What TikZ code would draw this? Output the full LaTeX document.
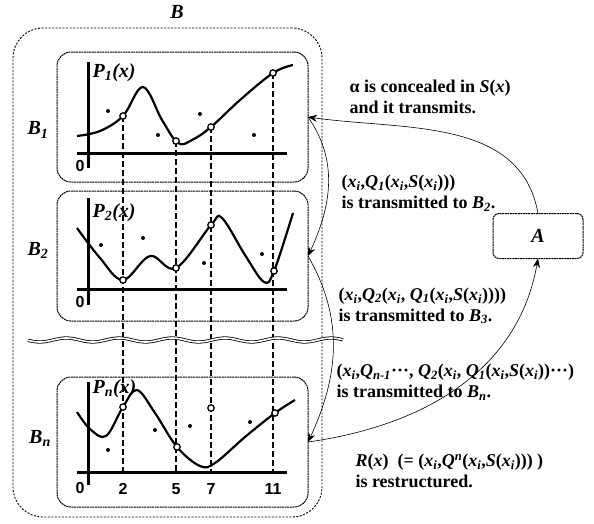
\documentclass[tikz,border=0pt]{standalone}
\usepackage{fontspec}
\setmainfont{Liberation Serif}
\setsansfont{Liberation Sans}
\usetikzlibrary{arrows.meta, positioning}
\newcommand{\ssub}[1]{\textsubscript{\textit{#1}}}
\newcommand{\xsub}{\textit{x}\ssub{i}}

\begin{document}
\begin{tikzpicture}[x=1pt, y=1pt,
            group/.style={draw, line width=0.9pt, dash pattern=on 2pt off 1.5pt, rounded corners=30pt, minimum width=309pt, minimum height=489pt, outer sep=0pt},
            panel/.style={draw, line width=1pt, dash pattern=on 2pt off 0.6pt, rounded corners=14pt, minimum width=251pt, minimum height=130pt, outer sep=0pt},
            keybox/.style={draw, line width=1pt, dash pattern=on 2pt off 0.6pt, rounded corners=6pt, minimum width=90pt, minimum height=45pt, outer sep=0pt, font=\fontsize{20}{20}\selectfont\bfseries\itshape},
            tag/.style={font=\fontsize{20}{20}\selectfont\bfseries\itshape},
            fname/.style={anchor=west, font=\fontsize{20}{20}\selectfont\bfseries\itshape},
            num/.style={font=\fontsize{16}{16}\selectfont\sffamily\bfseries},
            note/.style={anchor=west, align=left, font=\fontsize{18}{21}\selectfont\bfseries},
            axis/.style={line width=3pt},
            curve/.style={line width=2.2pt, smooth, tension=0.6},
            guide/.style={line width=2pt, dash pattern=on 6pt off 3pt},
            hit/.style={draw, line width=1.3pt, fill=white},
            flow/.style={->, >={Stealth[length=9pt, width=7pt]}, semithick}
        ]
            \useasboundingbox (0,0) rectangle (594,-523);

            % containers
            \node[group] (grp) at (167.5,-272.5) {};
            \node[tag] (glabel) at (177,-12) {B};
            \node[panel] (b1) at (182.5,-117) {};
            \node[panel, below=9pt of b1] (b2) {};
            \node[panel, below=56pt of b2] (bn) {};
            \node[tag] (l1) at (38,-130) {B\ssub{1}};
            \node[tag] (l2) at (38,-250) {B\ssub{2}};
            \node[tag] (ln) at (40,-438) {B\ssub{n}};
            \node[keybox] (a) at (538,-236) {A};

            % shared points
            \foreach \x/\y in {123/116, 176/141, 211/127, 273/73}
                \draw[guide] (\x,-\y) -- (\x,-472);

            % P1
            \draw[axis] (88,-62) -- (88,-168);
            \draw[axis] (77,-153) -- (287,-153);
            \draw[curve] plot coordinates {(77,-136) (100,-131) (123,-116) (143,-87) (162,-120) (178,-143) (192,-140) (211,-127) (240,-100) (273,-73) (293,-65)};
            \node[fname] (p1) at (89,-73) {P\ssub{1}(x)};
            \node[num] (z1) at (80,-166) {0};

            % P2
            \draw[axis] (88,-198) -- (88,-305);
            \draw[axis] (77,-289) -- (287,-289);
            \draw[curve] plot coordinates {(77,-228) (100,-258) (123,-280) (150,-256) (176,-268) (211,-225) (222,-218) (245,-255) (264,-282) (274,-271) (293,-213)};
            \node[fname] (p2) at (89,-213) {P\ssub{2}(x)};
            \node[num] (z2) at (80,-302) {0};

            % Pn
            \draw[axis] (88,-382) -- (88,-485);
            \draw[axis] (77,-472) -- (287,-472);
            \draw[curve] plot coordinates {(77,-412) (90,-429) (106,-436) (123,-407) (137,-390) (155,-413) (177,-447) (200,-466) (215,-463) (245,-437) (275,-413) (295,-400)};
            \node[fname] (pn) at (89,-389) {P\ssub{n}(x)};
            \node[num] (z3) at (80,-488) {0};
            \foreach \x/\t in {123/2, 176/5, 211/7, 273/11}
                \node[num] (tick\t) at (\x,-489) {\t};

            % stray points
            \foreach \p in {(108,-111), (158,-135), (200,-114), (254,-135), (101,-245), (143,-238), (204,-263), (262,-254), (108,-450), (155,-430), (190,-426), (250,-422)}
                \fill \p circle (2pt);
            \foreach \p in {(123,-116), (176,-141), (211,-127), (273,-73), (123,-280), (176,-268), (211,-225), (274,-271), (123,-407), (177,-447), (211,-408), (275,-413)}
                \draw[hit] \p circle (3.2pt);

            % break
            \draw[double, double distance=1.6pt, thick] plot[domain=28:343, samples=120] (\x, {-340+2*sin(\x*6.8)});

            % messages
            \draw[flow] (a.north) to[out=100, in=-8] (b1.east);
            \draw[flow] (b1.east) to[out=-55, in=65] (b2.east);
            \draw[flow] (b2.east) to[out=-60, in=65] (bn.east);
            \draw[flow] (bn.east) to[out=8, in=-100] (a.south);

            \node[note] (m1) at (346,-97) {α is concealed in \textit{S}(\textit{x})\\ and it transmits.};
            \node[note] (m2) at (338,-193) {(\xsub,\textit{Q}\ssub{1}(\xsub,\textit{S}(\xsub)))\\ is transmitted to \textit{B}\ssub{2}.};
            \node[note] (m3) at (335,-306) {(\xsub,\textit{Q}\ssub{2}(\xsub, \textit{Q}\ssub{1}(\xsub,\textit{S}(\xsub))))\\ is transmitted to \textit{B}\ssub{3}.};
            \node[note] (m4) at (333,-382) {(\xsub,\textit{Q}\ssub{n-1}\textperiodcentered\textperiodcentered\textperiodcentered, \textit{Q}\ssub{2}(\xsub, \textit{Q}\ssub{1}(\xsub,\textit{S}(\xsub))\textperiodcentered\textperiodcentered\textperiodcentered)\\ is transmitted to \textit{B}\ssub{n}.};
            \node[note] (m5) at (352,-471) {\textit{R}(\textit{x})\ \ (= (\xsub,\textit{Q}\textsuperscript{\textit{n}}(\xsub,\textit{S}(\xsub))) )\\ is restructured.};
        \end{tikzpicture}
\end{document}
